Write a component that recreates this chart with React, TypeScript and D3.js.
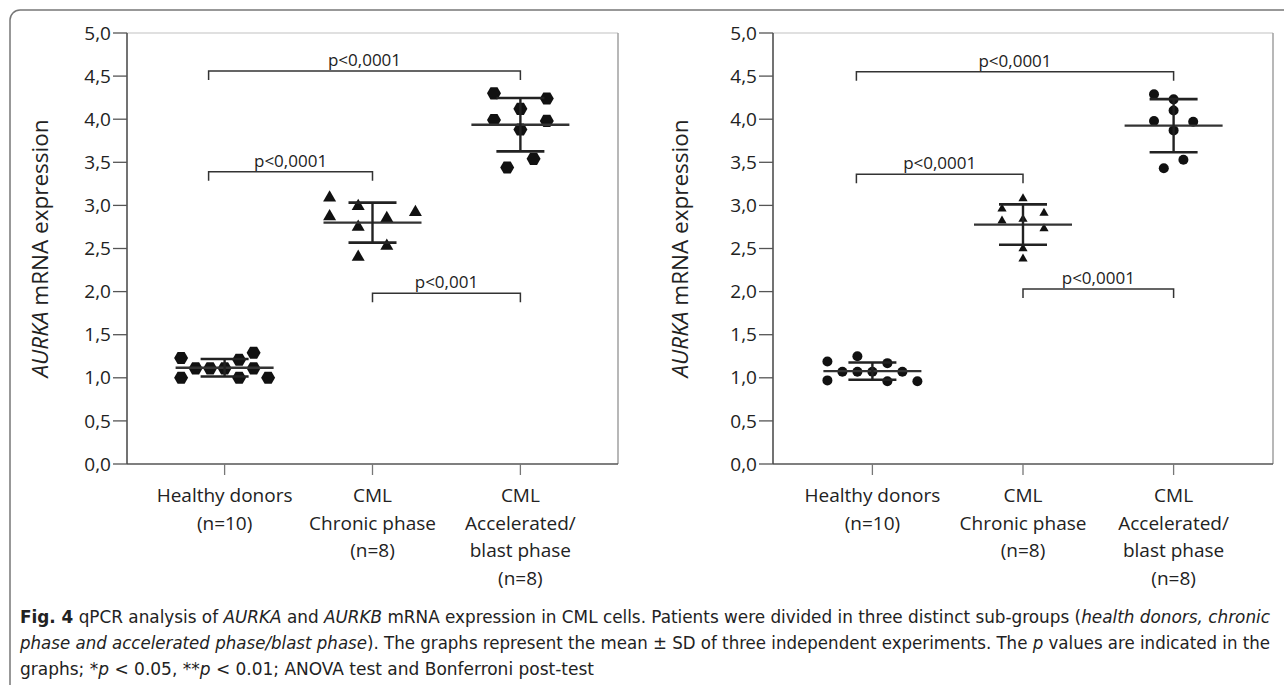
import React from "react";
import * as d3 from "d3";

// ---------- data ----------
const categories = ["healthy", "chronic", "accelerated"];
const categoryLabelLines = [
  ["Healthy donors", "(n=10)"],
  ["CML", "Chronic phase", "(n=8)"],
  ["CML", "Accelerated/", "blast phase", "(n=8)"],
];
const yTicks = [0, 0.5, 1, 1.5, 2, 2.5, 3, 3.5, 4, 4.5, 5];

// left panel values (column index = horizontal scatter slot)
const leftHealthyValues = [1.23, 1.0, 1.11, 1.11, 1.11, 1.21, 1.0, 1.29, 1.11, 1.0];
const leftHealthyColumns = [-3, -3, -2, -1, 0, 1, 1, 2, 2, 3];
const leftChronicValues = [3.09, 2.87, 2.99, 2.75, 2.85, 2.53, 2.92, 2.4];
const leftChronicColumns = [-3, -3, -1, -1, 1, 1, 3, -1];
const leftBlastValues = [4.3, 4.24, 4.12, 3.99, 3.98, 3.88, 3.54, 3.44];
const leftBlastColumns = [-2, 2, 0, -2, 2, 0, 1, -1];

// right panel values
const rightHealthyValues = [1.19, 0.97, 1.25, 1.07, 1.07, 1.07, 1.17, 0.96, 1.07, 0.96];
const rightHealthyColumns = [-3, -3, -1, -2, -1, 0, 1, 1, 2, 3];
const rightChronicValues = [3.08, 2.96, 2.82, 2.84, 2.91, 2.73, 2.5, 2.38];
const rightChronicColumns = [0, -2, -2, 0, 2, 2, 0, 0];
const rightBlastValues = [4.29, 4.23, 4.1, 3.98, 3.97, 3.87, 3.53, 3.43];
const rightBlastColumns = [-2, 0, 0, -2, 2, 0, 1, -1];

const leftBrackets = [
  { from: 0, to: 2, y: 4.56, label: "p<0,0001" },
  { from: 0, to: 1, y: 3.39, label: "p<0,0001" },
  { from: 1, to: 2, y: 1.98, label: "p<0,001" },
];
const rightBrackets = [
  { from: 0, to: 2, y: 4.55, label: "p<0,0001" },
  { from: 0, to: 1, y: 3.36, label: "p<0,0001" },
  { from: 1, to: 2, y: 2.03, label: "p<0,0001" },
];

// ---------- layout / style ----------
const W = 1284;
const H = 685;
const Y_TOP = 33;
const Y_BOTTOM = 464;
const FONT = "'Open Sans', 'DejaVu Sans', sans-serif";
const TEXT = "#222";
const bracketNudge = [-16, 0, 0];

type Shape = "hexagon" | "triangle" | "circle";
interface Group { values: number[]; columns: number[]; shape: Shape; size: number; step: number }

const panels = [
  {
    x0: 127, x1: 618, labelX: 48,
    brackets: leftBrackets,
    groups: [
      { values: leftHealthyValues, columns: leftHealthyColumns, shape: "hexagon", size: 7, step: 14.5 },
      { values: leftChronicValues, columns: leftChronicColumns, shape: "triangle", size: 6.5, step: 14.3 },
      { values: leftBlastValues, columns: leftBlastColumns, shape: "hexagon", size: 7, step: 13.2 },
    ] as Group[],
  },
  {
    x0: 773, x1: 1273, labelX: 688,
    brackets: rightBrackets,
    groups: [
      { values: rightHealthyValues, columns: rightHealthyColumns, shape: "circle", size: 5, step: 15 },
      { values: rightChronicValues, columns: rightChronicColumns, shape: "triangle", size: 4.6, step: 10.5 },
      { values: rightBlastValues, columns: rightBlastColumns, shape: "circle", size: 5, step: 9.8 },
    ] as Group[],
  },
];

const fmt = (v: number) => d3.format(".1f")(v).replace(".", ",");

function markerPath(shape: Shape, s: number): string {
  if (shape === "hexagon") {
    const pts = d3.range(6).map((i) => {
      const a = (Math.PI / 3) * i;
      return [s * Math.cos(a), s * Math.sin(a)] as [number, number];
    });
    return (d3.line()(pts) as string) + "Z";
  }
  if (shape === "triangle") {
    const h = s * Math.sqrt(3);
    const pts: [number, number][] = [[0, -(2 * h) / 3], [s, h / 3], [-s, h / 3]];
    return (d3.line()(pts) as string) + "Z";
  }
  return d3.arc()({ innerRadius: 0, outerRadius: s, startAngle: 0, endAngle: 2 * Math.PI }) as string;
}

function Panel({ p }: { p: typeof panels[number] }) {
  const x = d3.scalePoint<string>().domain(categories).range([p.x0, p.x1]).padding(0.66);
  const y = d3.scaleLinear().domain([0, 5]).range([Y_BOTTOM, Y_TOP]);
  const yMid = y(2.5);
  return (
    <g>
      {/* plot frame */}
      <line x1={p.x0} x2={p.x1} y1={Y_TOP} y2={Y_TOP} stroke="#d6d6d6" strokeWidth={1.5} />
      <line x1={p.x1} x2={p.x1} y1={Y_TOP} y2={Y_BOTTOM} stroke="#a0a0a0" strokeWidth={1.5} />
      <line x1={p.x0} x2={p.x1} y1={Y_BOTTOM} y2={Y_BOTTOM} stroke="#555" strokeWidth={1.5} />
      <line x1={p.x0} x2={p.x0} y1={Y_TOP} y2={Y_BOTTOM} stroke="#444" strokeWidth={1.5} />
      {/* y ticks */}
      {yTicks.map((t) => (
        <g key={t}>
          <line x1={p.x0 - 14} x2={p.x0} y1={y(t)} y2={y(t)} stroke="#555" strokeWidth={1.3} />
          <text x={p.x0 - 16} y={y(t)} dy="0.35em" textAnchor="end" fontSize={19} fontFamily={FONT} fill={TEXT}>
            {fmt(t)}
          </text>
        </g>
      ))}
      {/* y label */}
      <text
        transform={`translate(${p.labelX},${yMid}) rotate(-90)`}
        textAnchor="middle" fontSize={22.5} fontFamily={FONT} fill={TEXT}
      >
        <tspan fontStyle="italic">AURKA</tspan> mRNA expression
      </text>
      {/* x ticks + labels */}
      {categories.map((c, i) => (
        <g key={c}>
          <line x1={x(c)} x2={x(c)} y1={Y_BOTTOM} y2={Y_BOTTOM + 11} stroke="#777" strokeWidth={1.3} />
          <text textAnchor="middle" fontSize={19} fontFamily={FONT} fill={TEXT}>
            {categoryLabelLines[i].map((ln, j) => (
              <tspan key={j} x={x(c)} y={502 + j * 27.7}>{ln}</tspan>
            ))}
          </text>
        </g>
      ))}
      {/* groups */}
      {p.groups.map((g, gi) => {
        const cx = x(categories[gi]) as number;
        const m = d3.mean(g.values) as number;
        const sd = d3.deviation(g.values) as number;
        const d = markerPath(g.shape, g.size);
        return (
          <g key={gi}>
            {g.values.map((v, k) => (
              <path key={k} d={d} transform={`translate(${cx + g.columns[k] * g.step},${y(v)})`} fill="#111" />
            ))}
            <line x1={cx - 49} x2={cx + 49} y1={y(m)} y2={y(m)} stroke="#333" strokeWidth={2.4} />
            <line x1={cx} x2={cx} y1={y(m + sd)} y2={y(m - sd)} stroke="#222" strokeWidth={2.4} />
            <line x1={cx - 24} x2={cx + 24} y1={y(m + sd)} y2={y(m + sd)} stroke="#222" strokeWidth={2.6} />
            <line x1={cx - 24} x2={cx + 24} y1={y(m - sd)} y2={y(m - sd)} stroke="#222" strokeWidth={2.6} />
          </g>
        );
      })}
      {/* brackets */}
      {p.brackets.map((b, bi) => {
        const xa = (x(categories[b.from]) as number) + bracketNudge[b.from];
        const xb = (x(categories[b.to]) as number) + bracketNudge[b.to];
        const yy = y(b.y);
        return (
          <g key={bi}>
            <path d={`M${xa},${yy + 9}V${yy}H${xb}V${yy + 9}`} fill="none" stroke="#333" strokeWidth={1.5} />
            <text x={(xa + xb) / 2} y={yy - 5} textAnchor="middle" fontSize={17} fontFamily={FONT} fill={TEXT}>
              {b.label}
            </text>
          </g>
        );
      })}
    </g>
  );
}

export default function App() {
  const capFont = "'Liberation Sans Narrow', 'DejaVu Sans Condensed', 'Open Sans', sans-serif";
  return (
    <svg width={W} height={H} style={{ position: "absolute", left: 0, top: 0, background: "#fff" }}>
      <rect x={0} y={0} width={W} height={H} fill="#fff" />
      <rect x={10} y={10} width={W + 20} height={H + 20} rx={10} fill="none" stroke="#777" strokeWidth={1.5} />
      {panels.map((p, i) => (
        <Panel key={i} p={p} />
      ))}
      <g fontFamily={capFont} fontSize={17.5} fill={TEXT}>
        <text x={20} y={623} textLength={1250} lengthAdjust="spacingAndGlyphs">
          <tspan fontWeight="bold">Fig. 4</tspan>
          {"  qPCR analysis of "}
          <tspan fontStyle="italic">AURKA</tspan>
          {" and "}
          <tspan fontStyle="italic">AURKB</tspan>
          {" mRNA expression in CML cells. Patients were divided in three distinct sub-groups ("}
          <tspan fontStyle="italic">health donors, chronic</tspan>
        </text>
        <text x={20} y={649} textLength={1250} lengthAdjust="spacingAndGlyphs">
          <tspan fontStyle="italic">phase and accelerated phase/blast phase</tspan>
          {"). The graphs represent the mean ± SD of three independent experiments. The "}
          <tspan fontStyle="italic">p</tspan>
          {" values are indicated in the"}
        </text>
        <text x={20} y={675} textLength={574} lengthAdjust="spacingAndGlyphs">
          {"graphs; *"}
          <tspan fontStyle="italic">p</tspan>
          {" < 0.05, **"}
          <tspan fontStyle="italic">p</tspan>
          {" < 0.01; ANOVA test and Bonferroni post-test"}
        </text>
      </g>
    </svg>
  );
}
